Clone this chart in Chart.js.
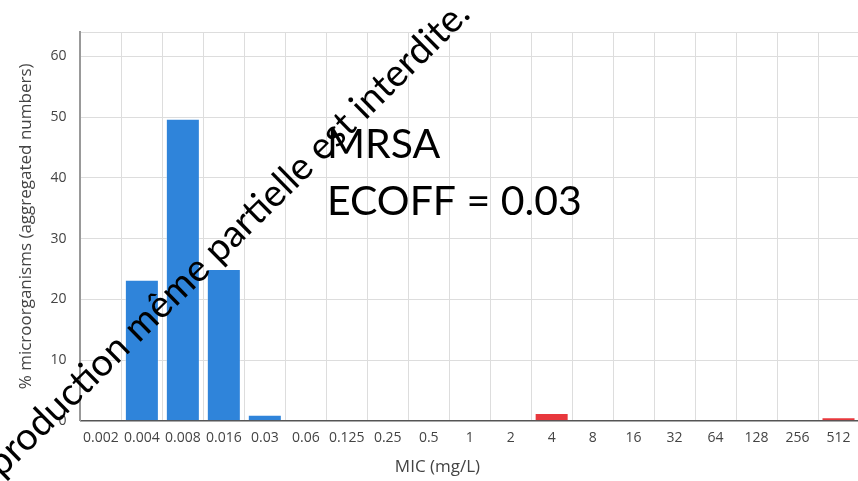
<!DOCTYPE html>
<html>
<head>
<meta charset="utf-8">
<script src="https://cdn.jsdelivr.net/npm/chart.js@4/dist/chart.umd.min.js"></script>
<style>
    html, body { margin: 0; padding: 0; background: #fff; overflow: hidden; }
    #wrap { width: 858px; height: 481px; overflow: hidden; }
</style>
</head>
<body>
<div id="wrap">
    <canvas id="mic-chart" width="883" height="481"></canvas>
</div>
<script>
// MIC distribution (% of microorganisms per MIC value)
const micLabels = ['0.002', '0.004', '0.008', '0.016', '0.03', '0.06', '0.125', '0.25', '0.5', '1',
                   '2', '4', '8', '16', '32', '64', '128', '256', '512'];
const micPercent = [0, 23.2, 49.7, 25.0, 1.0, 0, 0, 0, 0, 0,
                    0, 1.3, 0, 0, 0, 0, 0, 0, 0.6];
const ecoff = 0.03;
const yTicks = [0, 10, 20, 30, 40, 50, 60];

const blue = '#2f84da';
const red = '#e8383d';

// text drawn over the plot: annotation and watermark
const overlayText = {
    id: 'overlayText',
    afterDraw: function(chart) {
        const ctx = chart.ctx;
        ctx.save();
        ctx.fillStyle = '#000';
        ctx.font = '41px Lato';
        ctx.textAlign = 'left';
        ctx.textBaseline = 'alphabetic';
        ctx.fillText('MRSA', 327, 158);
        ctx.fillText('ECOFF = ' + ecoff, 327, 215);

        // watermark
        ctx.font = '38px Lato';
        ctx.translate(472, 16);
        ctx.rotate(-44.5 * Math.PI / 180);
        ctx.textAlign = 'right';
        ctx.fillText('Reproduction même partielle est interdite.', 0, 0);
        ctx.restore();
    }
};

const ctx = document.getElementById('mic-chart').getContext('2d');
const chart = new Chart(ctx, {
    type: 'bar',
    data: {
        labels: micLabels,
        datasets: [{
            label: '% microorganisms',
            data: micPercent,
            backgroundColor: micLabels.map(l => parseFloat(l) <= ecoff ? blue : red),
            borderColor: 'rgba(255,255,255,0.35)',
            borderWidth: 1,
            categoryPercentage: 1,
            barPercentage: 0.83
        }]
    },
    options: {
        responsive: false,
        animation: false,
        devicePixelRatio: 1,
        layout: {
            padding: { left: 16, right: 24, top: 32, bottom: 4 }
        },
        plugins: {
            legend: { display: false },
            tooltip: { enabled: false },
            title: {
                display: true,
                position: 'bottom',
                text: 'MIC (mg/L)',
                color: '#444',
                font: { family: 'Open Sans', size: 17, weight: 'normal' },
                padding: { top: 1, bottom: 0 }
            }
        },
        scales: {
            x: {
                grid: { color: '#dddddd', lineWidth: 1, drawTicks: false, offset: true },
                border: { color: '#555', width: 1.5 },
                ticks: {
                    color: '#444',
                    font: { family: 'Open Sans', size: 14 },
                    padding: 9,
                    maxRotation: 0,
                    autoSkip: false
                }
            },
            y: {
                min: 0,
                max: 64,
                grid: { color: '#dddddd', lineWidth: 1, drawTicks: false },
                border: { color: '#999', width: 2 },
                afterBuildTicks: function(scale) {
                    scale.ticks = yTicks.map(v => ({ value: v })).concat([{ value: 64 }]);
                },
                ticks: {
                    color: '#444',
                    font: { family: 'Open Sans', size: 14 },
                    padding: 14,
                    callback: v => yTicks.includes(v) ? v : ''
                },
                title: {
                    display: true,
                    text: '% microorganisms (aggregated numbers)',
                    color: '#444',
                    font: { family: 'Open Sans', size: 17 },
                    padding: { top: 0, bottom: 0 }
                }
            }
        }
    },
    plugins: [overlayText]
});
</script>
</body>
</html>
